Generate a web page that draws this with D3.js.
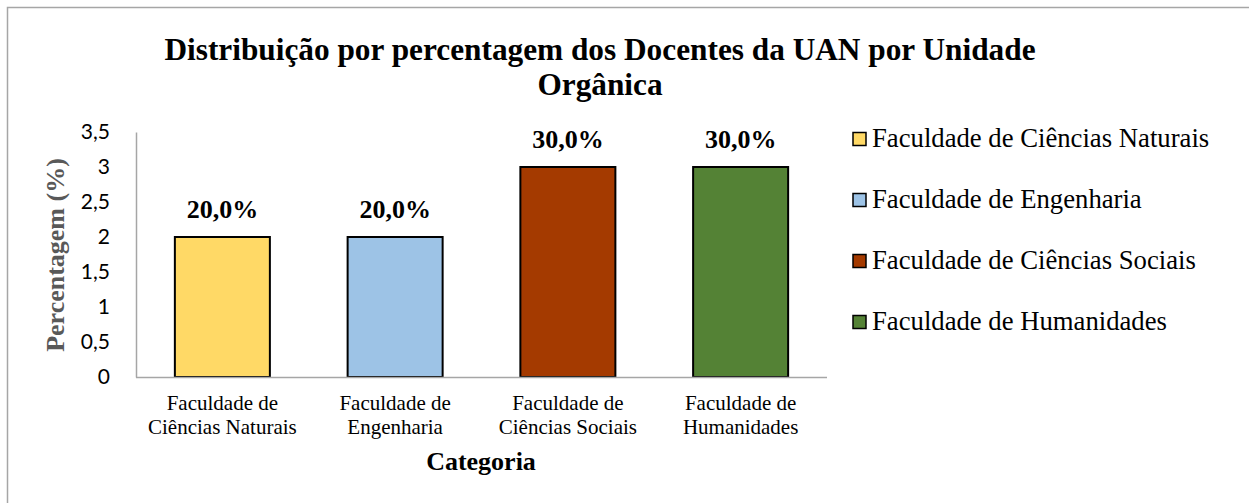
<!DOCTYPE html>
<html>
<head>
<meta charset="utf-8">
<script src="https://cdn.jsdelivr.net/npm/d3@7"></script>
<style>
  body { margin: 0; background: #fff; }
  svg { display: block; }
</style>
</head>
<body>
<script>
'use strict';

// chart data
let categories = ["Faculdade de Ciências Naturais", "Faculdade de Engenharia",
  "Faculdade de Ciências Sociais", "Faculdade de Humanidades"];
let tickLines = [["Faculdade de", "Ciências Naturais"], ["Faculdade de", "Engenharia"],
  ["Faculdade de", "Ciências Sociais"], ["Faculdade de", "Humanidades"]];
let values = [2, 2, 3, 3];
let labels = ["20,0%", "20,0%", "30,0%", "30,0%"];
let yTicks = [0, 0.5, 1, 1.5, 2, 2.5, 3, 3.5];
let colors = ["#FFD966", "#9DC3E6", "#A43A00", "#548235"];

let serif = "'Liberation Serif', serif";
let sans = "Lato, sans-serif";

let svg = d3.select("body").append("svg")
  .attr("width", 1249)
  .attr("height", 503);

// outer chart frame (only left and top edges are visible)
svg.append("rect")
  .attr("x", 7.5).attr("y", 7.5)
  .attr("width", 1300).attr("height", 600)
  .attr("fill", "none")
  .attr("stroke", "#a6a6a6")
  .attr("stroke-width", 1.5);

// scales
let x = d3.scaleBand()
  .domain(categories)
  .range([136, 827])
  .paddingInner(0.45)
  .paddingOuter(0.225);

let y = d3.scaleLinear()
  .domain([0, 3.5])
  .range([377, 132]);

// y axis
let yAxis = svg.append("g")
  .attr("transform", "translate(136,0)")
  .call(d3.axisLeft(y).tickValues(yTicks).tickSize(0).tickPadding(26)
    .tickFormat(d => String(d).replace(".", ",")));
yAxis.select(".domain").attr("stroke", "#a6a6a6").attr("stroke-width", 1.5);
yAxis.selectAll("text")
  .style("font-family", sans)
  .style("font-size", "21px")
  .attr("fill", "#000");

// bars
svg.selectAll(".bar")
  .data(values)
  .enter()
  .append("rect")
    .attr("class", "bar")
    .attr("x", (d, i) => x(categories[i]))
    .attr("y", d => y(d))
    .attr("width", x.bandwidth())
    .attr("height", d => y(0) - y(d))
    .attr("fill", (d, i) => colors[i])
    .attr("stroke", "#000")
    .attr("stroke-width", 2);

// x axis line
svg.append("line")
  .attr("x1", 136).attr("x2", 827)
  .attr("y1", y(0) + 0.5).attr("y2", y(0) + 0.5)
  .attr("stroke", "#a6a6a6")
  .attr("stroke-width", 1.5);

// data labels
svg.selectAll(".lbl")
  .data(values)
  .enter()
  .append("text")
    .attr("class", "lbl")
    .attr("x", (d, i) => x(categories[i]) + x.bandwidth() / 2)
    .attr("y", d => y(d) - 19)
    .attr("text-anchor", "middle")
    .style("font-family", serif)
    .style("font-weight", "bold")
    .style("font-size", "26px")
    .text((d, i) => labels[i]);

// category tick labels (two lines)
let cat = svg.selectAll(".cat")
  .data(tickLines)
  .enter()
  .append("text")
    .attr("class", "cat")
    .attr("text-anchor", "middle")
    .style("font-family", serif)
    .style("font-size", "21px");
cat.selectAll("tspan")
  .data((d, i) => d.map(t => ({ t: t, i: i })))
  .enter()
  .append("tspan")
    .attr("x", d => x(categories[d.i]) + x.bandwidth() / 2)
    .attr("y", (d, j) => 410 + j * 24)
    .text(d => d.t);

// title
svg.append("text")
  .attr("x", 600).attr("y", 60)
  .attr("text-anchor", "middle")
  .style("font-family", serif)
  .style("font-weight", "bold")
  .style("font-size", "31.3px")
  .text("Distribuição por percentagem dos Docentes da UAN por Unidade");
svg.append("text")
  .attr("x", 600).attr("y", 95)
  .attr("text-anchor", "middle")
  .style("font-family", serif)
  .style("font-weight", "bold")
  .style("font-size", "31.3px")
  .text("Orgânica");

// axis titles
svg.append("text")
  .attr("transform", "translate(64,255)rotate(-90)")
  .attr("text-anchor", "middle")
  .style("font-family", serif)
  .style("font-weight", "bold")
  .style("font-size", "26px")
  .attr("fill", "#595959")
  .text("Percentagem (%)");

svg.append("text")
  .attr("x", 481).attr("y", 470)
  .attr("text-anchor", "middle")
  .style("font-family", serif)
  .style("font-weight", "bold")
  .style("font-size", "26px")
  .text("Categoria");

// legend
let legend = svg.selectAll(".leg")
  .data(categories)
  .enter()
  .append("g")
    .attr("class", "leg")
    .attr("transform", (d, i) => "translate(853," + (139 + i * 61) + ")");
legend.append("rect")
  .attr("x", 0).attr("y", -6.5)
  .attr("width", 13).attr("height", 13)
  .attr("fill", (d, i) => colors[i])
  .attr("stroke", "#000")
  .attr("stroke-width", 1.5);
legend.append("text")
  .attr("x", 19).attr("y", 8)
  .style("font-family", serif)
  .style("font-size", "26.7px")
  .text(d => d);
</script>
</body>
</html>
